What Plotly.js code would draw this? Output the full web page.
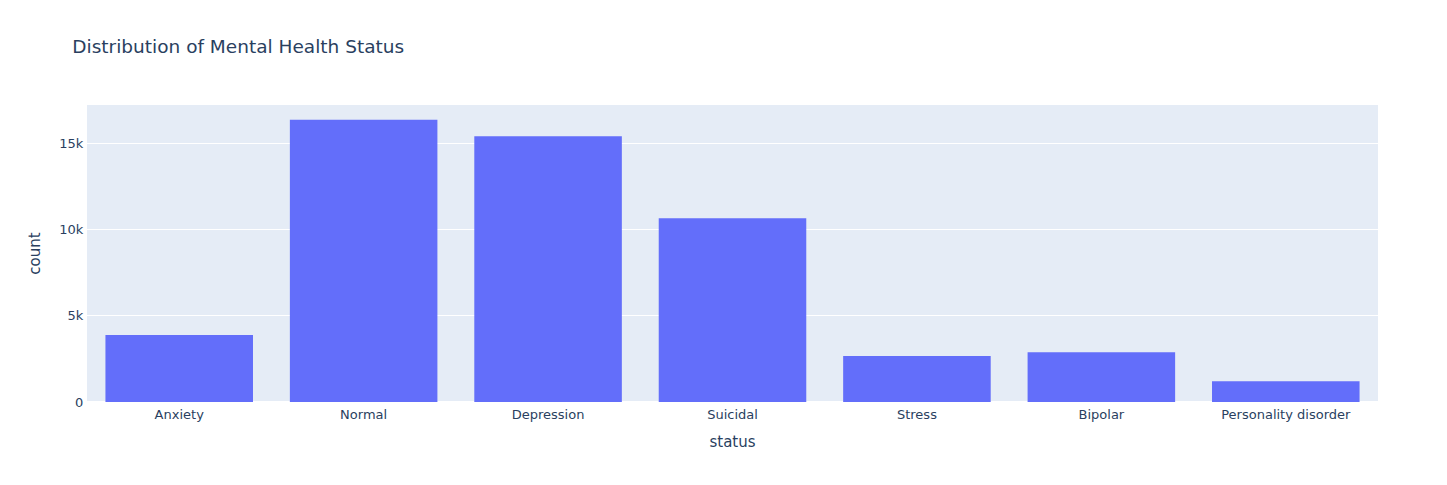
<!DOCTYPE html>
<html>
<head>
<meta charset="utf-8">
<script src="https://cdn.plot.ly/plotly-3.0.1.min.js"></script>
<style>
  html, body { margin: 0; padding: 0; background: #fff; }
  #chart { width: 1447px; height: 485px; }
</style>
</head>
<body>
<div id="chart"></div>
<script>
var statuses = ['Anxiety', 'Normal', 'Depression', 'Suicidal', 'Stress', 'Bipolar', 'Personality disorder'];
var counts = [3888, 16351, 15404, 10653, 2669, 2877, 1201];

var trace = {
    type: 'bar',
    x: statuses,
    y: counts,
    marker: { color: '#636efa' },
    hovertemplate: 'status=%{x}<br>count=%{y}<extra></extra>'
};

var layout = {
    width: 1447,
    height: 485,
    title: { text: 'Distribution of Mental Health Status', x: 0.05, font: { size: 18.5, color: '#2a3f5f' } },
    font: { family: '"DejaVu Sans", Verdana, sans-serif', size: 13, color: '#2a3f5f' },
    paper_bgcolor: '#ffffff',
    plot_bgcolor: '#E5ECF6',
    bargap: 0.2,
    margin: { l: 87, r: 69, t: 105, b: 83 },
    xaxis: {
        title: { text: 'status', font: { size: 15 }, standoff: 15 },
        automargin: true,
        showgrid: false,
        linecolor: 'white',
        ticks: ''
    },
    yaxis: {
        title: { text: 'count', font: { size: 15 }, standoff: 15 },
        automargin: true,
        gridcolor: 'white',
        linecolor: 'white',
        zerolinecolor: 'white',
        zerolinewidth: 2,
        ticks: ''
    },
    showlegend: false
};

Plotly.newPlot('chart', [trace], layout, { displayModeBar: false });
</script>
</body>
</html>
